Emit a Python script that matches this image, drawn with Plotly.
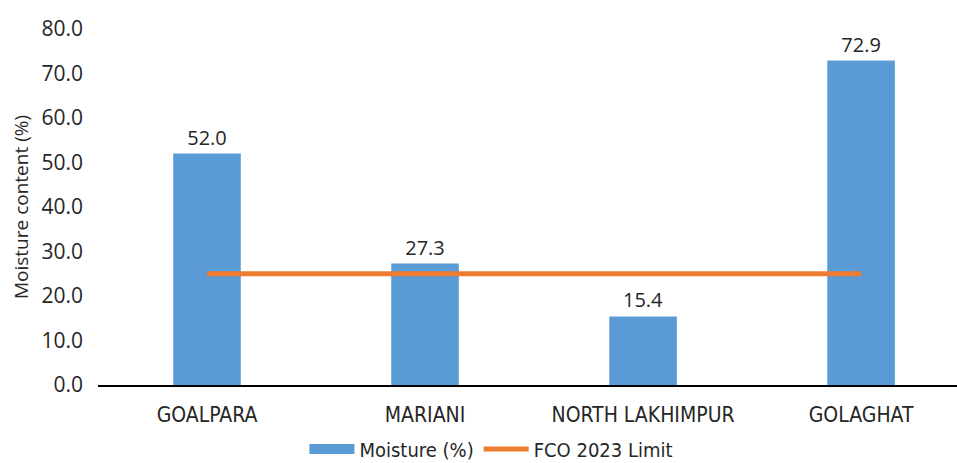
import plotly.graph_objects as go

sites = ["GOALPARA", "MARIANI", "NORTH LAKHIMPUR", "GOLAGHAT"]
moisture = [52.0, 27.3, 15.4, 72.9]
fco_limit = [25, 25, 25, 25]
y_ticks = [0, 10, 20, 30, 40, 50, 60, 70, 80]

BLUE = "#5B9BD5"
ORANGE = "#ED7D31"
TEXT = "#262626"
NARROW = "DejaVu Sans Condensed, Liberation Sans Narrow, Arial Narrow, sans-serif"

fig = go.Figure()
fig.add_trace(go.Bar(
    x=sites, y=moisture, name="Moisture (%)", showlegend=False,
    marker=dict(color=BLUE, line=dict(width=0)),
    text=[f"{v:.1f}" for v in moisture], textposition="outside",
    textfont=dict(family="Open Sans", size=20, color=TEXT),
    cliponaxis=False,
))
# legend entry for the bars, drawn as a wide swatch
fig.add_trace(go.Scatter(
    x=[None], y=[None], name="Moisture (%)", mode="lines",
    line=dict(color=BLUE, width=11),
))
fig.add_trace(go.Scatter(
    x=sites, y=fco_limit, name="FCO 2023 Limit", mode="lines",
    line=dict(color=ORANGE, width=5),
))

fig.update_layout(
    width=957, height=463,
    margin=dict(l=98, r=0, t=29, b=78),
    plot_bgcolor="white", paper_bgcolor="white",
    bargap=0.69,
    showlegend=True,
    legend=dict(orientation="h", x=0.458, xanchor="center",
                yref="container", y=0.03, yanchor="middle",
                itemwidth=45,
                font=dict(family=NARROW, size=20, color=TEXT),
                traceorder="normal"),
    xaxis=dict(range=[-0.5, 3.44], showgrid=False, showline=True, linecolor="#000000",
               linewidth=2, ticks="", ticklabelstandoff=10,
               tickfont=dict(family=NARROW, size=21, color=TEXT)),
    yaxis=dict(range=[0, 80], tickvals=y_ticks, tickformat=".1f", showgrid=False,
               zeroline=False, showline=False, ticks="", ticklabelstandoff=14,
               tickfont=dict(family="Open Sans", size=21, color=TEXT),
               title=dict(text="Moisture content (%)", standoff=7,
                          font=dict(family="Open Sans", size=19, color=TEXT))),
)

fig.write_html("out.html")
